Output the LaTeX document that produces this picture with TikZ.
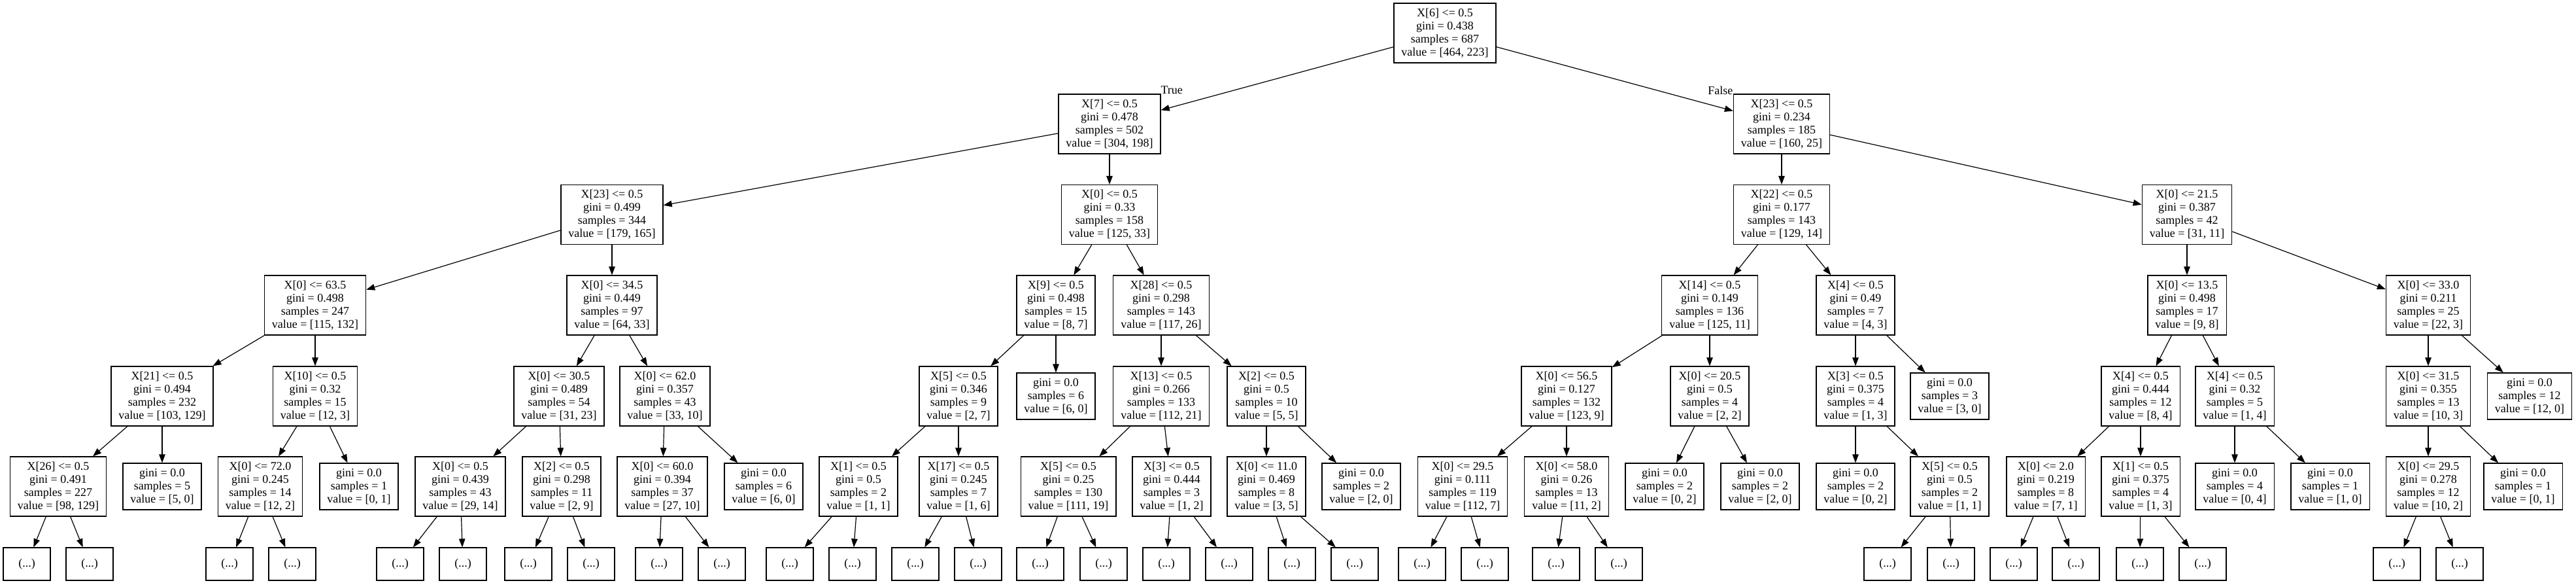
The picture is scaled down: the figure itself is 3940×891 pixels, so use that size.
\documentclass[tikz,border=0pt]{standalone}
\usepackage{fontspec}
\setmainfont{Liberation Serif}
\usetikzlibrary{arrows.meta}

\begin{document}
\begin{tikzpicture}[x=1pt, y=-1pt, line width=1.2pt, >={Triangle[length=13pt, width=9.5pt]}, splitStyle/.style={rectangle, draw, align=center, inner xsep=11.5pt, minimum height=91pt, font=\fontsize{18}{20}\selectfont}, leafStyle/.style={splitStyle, minimum height=71pt}, moreStyle/.style={rectangle, draw, minimum width=72pt, minimum height=50pt, font=\fontsize{18}{20}\selectfont}, branchStyle/.style={inner sep=0pt, font=\fontsize{18}{20}\selectfont}]
                    \useasboundingbox (0, 0) rectangle (3940, 891);

                    \node[splitStyle] (root) at (2210, 50.5) {X[6] <= 0.5\\gini = 0.438\\samples = 687\\value = [464, 223]};

                    \node[splitStyle] (L) at (1697, 189.5) {X[7] <= 0.5\\gini = 0.478\\samples = 502\\value = [304, 198]};
                    \node[splitStyle] (R) at (2725, 189.5) {X[23] <= 0.5\\gini = 0.234\\samples = 185\\value = [160, 25]};
                    \node[branchStyle, anchor=base west] (lblTrue)  at (1775, 143) {True};
                    \node[branchStyle, anchor=base east] (lblFalse) at (2651, 144) {False};

                    \node[splitStyle] (LL) at ( 936, 328) {X[23] <= 0.5\\gini = 0.499\\samples = 344\\value = [179, 165]};
                    \node[splitStyle] (LR) at (1697, 328) {X[0] <= 0.5\\gini = 0.33\\samples = 158\\value = [125, 33]};
                    \node[splitStyle] (RL) at (2725, 328) {X[22] <= 0.5\\gini = 0.177\\samples = 143\\value = [129, 14]};
                    \node[splitStyle] (RR) at (3345, 328) {X[0] <= 21.5\\gini = 0.387\\samples = 42\\value = [31, 11]};

                    \node[splitStyle] (LLL) at ( 482, 466.5) {X[0] <= 63.5\\gini = 0.498\\samples = 247\\value = [115, 132]};
                    \node[splitStyle] (LLR) at ( 936, 466.5) {X[0] <= 34.5\\gini = 0.449\\samples = 97\\value = [64, 33]};
                    \node[splitStyle] (LRL) at (1615, 466.5) {X[9] <= 0.5\\gini = 0.498\\samples = 15\\value = [8, 7]};
                    \node[splitStyle] (LRR) at (1776, 466.5) {X[28] <= 0.5\\gini = 0.298\\samples = 143\\value = [117, 26]};
                    \node[splitStyle] (RLL) at (2615, 466.5) {X[14] <= 0.5\\gini = 0.149\\samples = 136\\value = [125, 11]};
                    \node[splitStyle] (RLR) at (2838, 466.5) {X[4] <= 0.5\\gini = 0.49\\samples = 7\\value = [4, 3]};
                    \node[splitStyle] (RRL) at (3345, 466.5) {X[0] <= 13.5\\gini = 0.498\\samples = 17\\value = [9, 8]};
                    \node[splitStyle] (RRR) at (3714, 466.5) {X[0] <= 33.0\\gini = 0.211\\samples = 25\\value = [22, 3]};

                    \node[splitStyle] (LLLL) at ( 248, 605.5) {X[21] <= 0.5\\gini = 0.494\\samples = 232\\value = [103, 129]};
                    \node[splitStyle] (LLLR) at ( 482, 605.5) {X[10] <= 0.5\\gini = 0.32\\samples = 15\\value = [12, 3]};
                    \node[splitStyle] (LLRL) at ( 855, 605.5) {X[0] <= 30.5\\gini = 0.489\\samples = 54\\value = [31, 23]};
                    \node[splitStyle] (LLRR) at (1017, 605.5) {X[0] <= 62.0\\gini = 0.357\\samples = 43\\value = [33, 10]};
                    \node[splitStyle] (LRLL) at (1466, 605.5) {X[5] <= 0.5\\gini = 0.346\\samples = 9\\value = [2, 7]};
                    \node[leafStyle]  (LRLR) at (1615, 605.5) {gini = 0.0\\samples = 6\\value = [6, 0]};
                    \node[splitStyle] (LRRL) at (1776, 605.5) {X[13] <= 0.5\\gini = 0.266\\samples = 133\\value = [112, 21]};
                    \node[splitStyle] (LRRR) at (1937, 605.5) {X[2] <= 0.5\\gini = 0.5\\samples = 10\\value = [5, 5]};
                    \node[splitStyle] (RLLL) at (2396, 605.5) {X[0] <= 56.5\\gini = 0.127\\samples = 132\\value = [123, 9]};
                    \node[splitStyle] (RLLR) at (2615, 605.5) {X[0] <= 20.5\\gini = 0.5\\samples = 4\\value = [2, 2]};
                    \node[splitStyle] (RLRL) at (2838, 605.5) {X[3] <= 0.5\\gini = 0.375\\samples = 4\\value = [1, 3]};
                    \node[leafStyle]  (RLRR) at (2982, 605.5) {gini = 0.0\\samples = 3\\value = [3, 0]};
                    \node[splitStyle] (RRLL) at (3274, 605.5) {X[4] <= 0.5\\gini = 0.444\\samples = 12\\value = [8, 4]};
                    \node[splitStyle] (RRLR) at (3418, 605.5) {X[4] <= 0.5\\gini = 0.32\\samples = 5\\value = [1, 4]};
                    \node[splitStyle] (RRRL) at (3714, 605.5) {X[0] <= 31.5\\gini = 0.355\\samples = 13\\value = [10, 3]};
                    \node[leafStyle]  (RRRR) at (3869, 605.5) {gini = 0.0\\samples = 12\\value = [12, 0]};

                    \node[splitStyle] (LLLLL) at (  89, 743.5) {X[26] <= 0.5\\gini = 0.491\\samples = 227\\value = [98, 129]};
                    \node[leafStyle]  (LLLLR) at ( 248, 743.5) {gini = 0.0\\samples = 5\\value = [5, 0]};
                    \node[splitStyle] (LLLRL) at ( 398, 743.5) {X[0] <= 72.0\\gini = 0.245\\samples = 14\\value = [12, 2]};
                    \node[leafStyle]  (LLLRR) at ( 549, 743.5) {gini = 0.0\\samples = 1\\value = [0, 1]};
                    \node[splitStyle] (LLRLL) at ( 704, 743.5) {X[0] <= 0.5\\gini = 0.439\\samples = 43\\value = [29, 14]};
                    \node[splitStyle] (LLRLR) at ( 859, 743.5) {X[2] <= 0.5\\gini = 0.298\\samples = 11\\value = [2, 9]};
                    \node[splitStyle] (LLRRL) at (1013, 743.5) {X[0] <= 60.0\\gini = 0.394\\samples = 37\\value = [27, 10]};
                    \node[leafStyle]  (LLRRR) at (1168, 743.5) {gini = 0.0\\samples = 6\\value = [6, 0]};
                    \node[splitStyle] (LRLLL) at (1313, 743.5) {X[1] <= 0.5\\gini = 0.5\\samples = 2\\value = [1, 1]};
                    \node[splitStyle] (LRLLR) at (1466, 743.5) {X[17] <= 0.5\\gini = 0.245\\samples = 7\\value = [1, 6]};
                    \node[splitStyle] (LRRLL) at (1634, 743.5) {X[5] <= 0.5\\gini = 0.25\\samples = 130\\value = [111, 19]};
                    \node[splitStyle] (LRRLR) at (1792, 743.5) {X[3] <= 0.5\\gini = 0.444\\samples = 3\\value = [1, 2]};
                    \node[splitStyle] (LRRRL) at (1937, 743.5) {X[0] <= 11.0\\gini = 0.469\\samples = 8\\value = [3, 5]};
                    \node[leafStyle]  (LRRRR) at (2082, 743.5) {gini = 0.0\\samples = 2\\value = [2, 0]};
                    \node[splitStyle] (RLLLL) at (2237, 743.5) {X[0] <= 29.5\\gini = 0.111\\samples = 119\\value = [112, 7]};
                    \node[splitStyle] (RLLLR) at (2396, 743.5) {X[0] <= 58.0\\gini = 0.26\\samples = 13\\value = [11, 2]};
                    \node[leafStyle]  (RLLRL) at (2546, 743.5) {gini = 0.0\\samples = 2\\value = [0, 2]};
                    \node[leafStyle]  (RLLRR) at (2692, 743.5) {gini = 0.0\\samples = 2\\value = [2, 0]};
                    \node[leafStyle]  (RLRLL) at (2838, 743.5) {gini = 0.0\\samples = 2\\value = [0, 2]};
                    \node[splitStyle] (RLRLR) at (2982, 743.5) {X[5] <= 0.5\\gini = 0.5\\samples = 2\\value = [1, 1]};
                    \node[splitStyle] (RRLLL) at (3129, 743.5) {X[0] <= 2.0\\gini = 0.219\\samples = 8\\value = [7, 1]};
                    \node[splitStyle] (RRLLR) at (3274, 743.5) {X[1] <= 0.5\\gini = 0.375\\samples = 4\\value = [1, 3]};
                    \node[leafStyle]  (RRLRL) at (3418, 743.5) {gini = 0.0\\samples = 4\\value = [0, 4]};
                    \node[leafStyle]  (RRLRR) at (3564, 743.5) {gini = 0.0\\samples = 1\\value = [1, 0]};
                    \node[splitStyle] (RRRLL) at (3714, 743.5) {X[0] <= 29.5\\gini = 0.278\\samples = 12\\value = [10, 2]};
                    \node[leafStyle]  (RRRLR) at (3859, 743.5) {gini = 0.0\\samples = 1\\value = [0, 1]};

                    \node[moreStyle] (LLLLLL) at (  41, 862) {(...)};
                    \node[moreStyle] (LLLLLR) at ( 137, 862) {(...)};
                    \node[moreStyle] (LLLRLL) at ( 351, 862) {(...)};
                    \node[moreStyle] (LLLRLR) at ( 447, 862) {(...)};
                    \node[moreStyle] (LLRLLL) at ( 612, 862) {(...)};
                    \node[moreStyle] (LLRLLR) at ( 708, 862) {(...)};
                    \node[moreStyle] (LLRLRL) at ( 808, 862) {(...)};
                    \node[moreStyle] (LLRLRR) at ( 904, 862) {(...)};
                    \node[moreStyle] (LLRRLL) at (1008, 862) {(...)};
                    \node[moreStyle] (LLRRLR) at (1104, 862) {(...)};
                    \node[moreStyle] (LRLLLL) at (1208, 862) {(...)};
                    \node[moreStyle] (LRLLLR) at (1304, 862) {(...)};
                    \node[moreStyle] (LRLLRL) at (1400, 862) {(...)};
                    \node[moreStyle] (LRLLRR) at (1496, 862) {(...)};
                    \node[moreStyle] (LRRLLL) at (1591, 862) {(...)};
                    \node[moreStyle] (LRRLLR) at (1688, 862) {(...)};
                    \node[moreStyle] (LRRLRL) at (1784, 862) {(...)};
                    \node[moreStyle] (LRRLRR) at (1880, 862) {(...)};
                    \node[moreStyle] (LRRRLL) at (1976, 862) {(...)};
                    \node[moreStyle] (LRRRLR) at (2072, 862) {(...)};
                    \node[moreStyle] (RLLLLL) at (2175, 862) {(...)};
                    \node[moreStyle] (RLLLLR) at (2271, 862) {(...)};
                    \node[moreStyle] (RLLLRL) at (2380, 862) {(...)};
                    \node[moreStyle] (RLLLRR) at (2476, 862) {(...)};
                    \node[moreStyle] (RLRLRL) at (2887, 862) {(...)};
                    \node[moreStyle] (RLRLRR) at (2984, 862) {(...)};
                    \node[moreStyle] (RRLLLL) at (3080, 862) {(...)};
                    \node[moreStyle] (RRLLLR) at (3175, 862) {(...)};
                    \node[moreStyle] (RRLLRL) at (3273, 862) {(...)};
                    \node[moreStyle] (RRLLRR) at (3369, 862) {(...)};
                    \node[moreStyle] (RRRLLL) at (3666, 862) {(...)};
                    \node[moreStyle] (RRRLLR) at (3762, 862) {(...)};

                    \draw[->] (root) -- (L);     \draw[->] (root) -- (R);
                    \draw[->] (L) -- (LL);       \draw[->] (L) -- (LR);
                    \draw[->] (R) -- (RL);       \draw[->] (R) -- (RR);
                    \draw[->] (LL) -- (LLL);     \draw[->] (LL) -- (LLR);
                    \draw[->] (LR) -- (LRL);     \draw[->] (LR) -- (LRR);
                    \draw[->] (RL) -- (RLL);     \draw[->] (RL) -- (RLR);
                    \draw[->] (RR) -- (RRL);     \draw[->] (RR) -- (RRR);
                    \draw[->] (LLL) -- (LLLL);   \draw[->] (LLL) -- (LLLR);
                    \draw[->] (LLR) -- (LLRL);   \draw[->] (LLR) -- (LLRR);
                    \draw[->] (LRL) -- (LRLL);   \draw[->] (LRL) -- (LRLR);
                    \draw[->] (LRR) -- (LRRL);   \draw[->] (LRR) -- (LRRR);
                    \draw[->] (RLL) -- (RLLL);   \draw[->] (RLL) -- (RLLR);
                    \draw[->] (RLR) -- (RLRL);   \draw[->] (RLR) -- (RLRR);
                    \draw[->] (RRL) -- (RRLL);   \draw[->] (RRL) -- (RRLR);
                    \draw[->] (RRR) -- (RRRL);   \draw[->] (RRR) -- (RRRR);
                    \draw[->] (LLLL) -- (LLLLL); \draw[->] (LLLL) -- (LLLLR);
                    \draw[->] (LLLR) -- (LLLRL); \draw[->] (LLLR) -- (LLLRR);
                    \draw[->] (LLRL) -- (LLRLL); \draw[->] (LLRL) -- (LLRLR);
                    \draw[->] (LLRR) -- (LLRRL); \draw[->] (LLRR) -- (LLRRR);
                    \draw[->] (LRLL) -- (LRLLL); \draw[->] (LRLL) -- (LRLLR);
                    \draw[->] (LRRL) -- (LRRLL); \draw[->] (LRRL) -- (LRRLR);
                    \draw[->] (LRRR) -- (LRRRL); \draw[->] (LRRR) -- (LRRRR);
                    \draw[->] (RLLL) -- (RLLLL); \draw[->] (RLLL) -- (RLLLR);
                    \draw[->] (RLLR) -- (RLLRL); \draw[->] (RLLR) -- (RLLRR);
                    \draw[->] (RLRL) -- (RLRLL); \draw[->] (RLRL) -- (RLRLR);
                    \draw[->] (RRLL) -- (RRLLL); \draw[->] (RRLL) -- (RRLLR);
                    \draw[->] (RRLR) -- (RRLRL); \draw[->] (RRLR) -- (RRLRR);
                    \draw[->] (RRRL) -- (RRRLL); \draw[->] (RRRL) -- (RRRLR);
                    \draw[->] (LLLLL) -- (LLLLLL); \draw[->] (LLLLL) -- (LLLLLR);
                    \draw[->] (LLLRL) -- (LLLRLL); \draw[->] (LLLRL) -- (LLLRLR);
                    \draw[->] (LLRLL) -- (LLRLLL); \draw[->] (LLRLL) -- (LLRLLR);
                    \draw[->] (LLRLR) -- (LLRLRL); \draw[->] (LLRLR) -- (LLRLRR);
                    \draw[->] (LLRRL) -- (LLRRLL); \draw[->] (LLRRL) -- (LLRRLR);
                    \draw[->] (LRLLL) -- (LRLLLL); \draw[->] (LRLLL) -- (LRLLLR);
                    \draw[->] (LRLLR) -- (LRLLRL); \draw[->] (LRLLR) -- (LRLLRR);
                    \draw[->] (LRRLL) -- (LRRLLL); \draw[->] (LRRLL) -- (LRRLLR);
                    \draw[->] (LRRLR) -- (LRRLRL); \draw[->] (LRRLR) -- (LRRLRR);
                    \draw[->] (LRRRL) -- (LRRRLL); \draw[->] (LRRRL) -- (LRRRLR);
                    \draw[->] (RLLLL) -- (RLLLLL); \draw[->] (RLLLL) -- (RLLLLR);
                    \draw[->] (RLLLR) -- (RLLLRL); \draw[->] (RLLLR) -- (RLLLRR);
                    \draw[->] (RLRLR) -- (RLRLRL); \draw[->] (RLRLR) -- (RLRLRR);
                    \draw[->] (RRLLL) -- (RRLLLL); \draw[->] (RRLLL) -- (RRLLLR);
                    \draw[->] (RRLLR) -- (RRLLRL); \draw[->] (RRLLR) -- (RRLLRR);
                    \draw[->] (RRRLL) -- (RRRLLL); \draw[->] (RRRLL) -- (RRRLLR);
                \end{tikzpicture}
\end{document}
